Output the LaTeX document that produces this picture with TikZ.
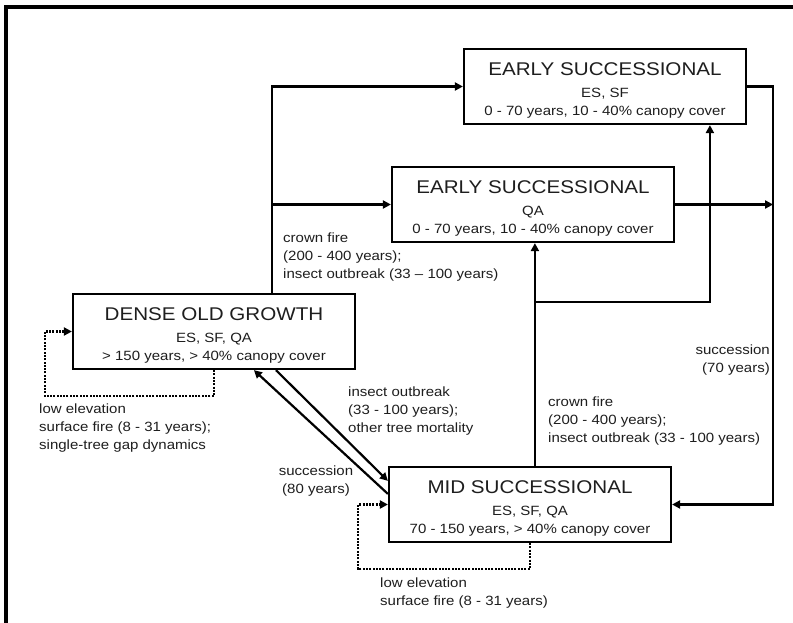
\documentclass[tikz,border=0pt]{standalone}
\usepackage{fontspec}
\setmainfont{Liberation Sans}[FakeStretch=1.12]
\usetikzlibrary{arrows.meta,calc}
\definecolor{txt}{RGB}{30,30,30}
\newcommand\boxtitle[1]{{\fontsize{18.4}{21}\selectfont\rule{0pt}{21pt}#1}}
\begin{document}
\begin{tikzpicture}[x=1pt,y=-1pt,
  box/.style={draw=black,line width=2.2pt,minimum width=282pt,minimum height=75pt,inner sep=0pt,align=center,text=txt,font=\fontsize{13.4}{18}\selectfont},
  arr/.style={line width=2.2pt,-{Triangle[length=8pt,width=8pt]}},
  dotarr/.style={line width=2.6pt,dash pattern=on 2pt off 1.3pt,-{Triangle[length=8pt,width=8pt]}},
  lbl/.style={text=txt,font=\fontsize{13.4}{18.2}\selectfont,inner sep=0pt}]
\useasboundingbox (0,0) rectangle (793,623);
\clip (0,0) rectangle (793,623);
\fill[white] (0,0) rectangle (793,623);
\draw[line width=4pt] (6,700) -- (6,7) -- (900,7);

\node[box] (es1) at (605,86.5) {\boxtitle{EARLY SUCCESSIONAL}\\[3.5pt]ES, SF\\0 - 70 years, 10 - 40\% canopy cover};
\node[box] (es2) at (533,204.5) {\boxtitle{EARLY SUCCESSIONAL}\\[3.5pt]QA\\0 - 70 years, 10 - 40\% canopy cover};
\node[box] (dog) at (214,331.5) {\boxtitle{DENSE OLD GROWTH}\\[3.5pt]ES, SF, QA\\> 150 years, > 40\% canopy cover};
\node[box] (mid) at (530,504.5) {\boxtitle{MID SUCCESSIONAL}\\[3.5pt]ES, SF, QA\\70 - 150 years, > 40\% canopy cover};

% crown fire from old growth
\coordinate (p1) at ($(dog.north west)+(200,0)$);
\draw[arr] (p1) |- (es1.west);
\draw[arr] (p1 |- es2.west) -- (es2.west);

% crown fire from mid
\coordinate (p2) at ($(mid.north west)+(147,0)$);
\draw[arr] (p2) -- (p2 |- es2.south);
\coordinate (q1) at ($(es1.south west)+(247,0)$);
\coordinate (j2) at ($(p2)+(0,-164)$);
\draw[arr] (j2) -| (q1);

% succession 70 years
\draw[arr] (es1.east) -- ++(26,0) coordinate (r1) |- (mid.east);
\draw[arr] (es2.east) -- (r1 |- es2.east);

% diagonals
\draw[arr] ($(dog.south west)+(204,0)$) -- ($(mid.north west)+(0,15)$);
\draw[arr] ($(mid.north west)+(0,28)$) -- ($(dog.south west)+(182,0)$);

% dotted self loops
\draw[dotarr] (dog.south) -- ++(0,26) -| ($(dog.west)+(-27,0)$) -- (dog.west);
\draw[dotarr] (mid.south) -- ++(0,26) -| ($(mid.west)+(-30,0)$) -- (mid.west);

% labels
\node[lbl,anchor=west,align=left] (l1) at (283,257) {crown fire\\(200 - 400 years);\\insect outbreak (33 – 100 years)};
\node[lbl,anchor=west,align=left] (l2) at (348,411) {insect outbreak\\(33 - 100 years);\\other tree mortality};
\node[lbl,anchor=west,align=left] (l3) at (548,421) {crown fire\\(200 - 400 years);\\insect outbreak (33 - 100 years)};
\node[lbl,anchor=east,align=right] (l4) at (770,360) {succession\\(70 years)};
\node[lbl,align=center] (l5) at (316,481) {succession\\(80 years)};
\node[lbl,anchor=west,align=left] (l6) at (39,428) {low elevation\\surface fire (8 - 31 years);\\single-tree gap dynamics};
\node[lbl,anchor=west,align=left] (l7) at (380,593) {low elevation\\surface fire (8 - 31 years)};
\end{tikzpicture}
\end{document}
